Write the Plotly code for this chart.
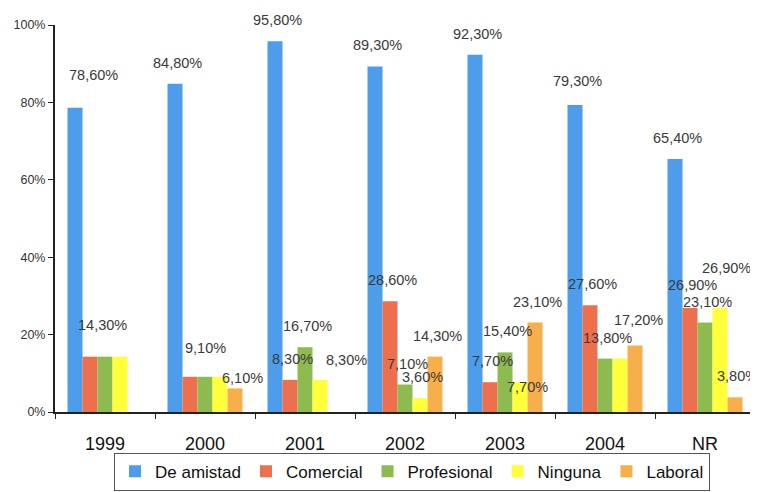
import plotly.graph_objects as go

categories = ["1999", "2000", "2001", "2002", "2003", "2004", "NR"]
series_names = ["De amistad", "Comercial", "Profesional", "Ninguna", "Laboral"]

de_amistad = [78.6, 84.8, 95.8, 89.3, 92.3, 79.3, 65.4]
comercial = [14.3, 9.1, 8.3, 28.6, 7.7, 27.6, 26.9]
profesional = [14.3, 9.1, 16.7, 7.1, 15.4, 13.8, 23.1]
ninguna = [14.3, 9.1, 8.3, 3.6, 7.7, 13.8, 26.9]
laboral = [None, 6.1, None, 14.3, 23.1, 17.2, 3.8]

# which values carry a visible data label in the original
labels_de_amistad = ["78,60%", "84,80%", "95,80%", "89,30%", "92,30%", "79,30%", "65,40%"]
labels_comercial = [None, None, "8,30%", "28,60%", "7,70%", "27,60%", "26,90%"]
labels_profesional = ["14,30%", "9,10%", "16,70%", "7,10%", "15,40%", "13,80%", "23,10%"]
labels_ninguna = [None, None, "8,30%", "3,60%", "7,70%", None, "26,90%"]
labels_laboral = [None, "6,10%", None, "14,30%", "23,10%", "17,20%", "3,80%"]

values = [de_amistad, comercial, profesional, ninguna, laboral]
labels = [labels_de_amistad, labels_comercial, labels_profesional, labels_ninguna, labels_laboral]
colors = ["#4D9DEB", "#EE6F4E", "#8DBB4F", "#FFFF3A", "#F6AF4A"]

fig = go.Figure()
for name, vals, col in zip(series_names, values, colors):
    fig.add_trace(go.Bar(name=name, x=categories, y=vals, marker=dict(color=col, line=dict(width=0))))

# label placement tweaks (pixels) relative to default position above each bar
BAR_PX = 15
default_dx, default_dy = 2, 21
tweaks = {
    (0, 0): (18, 33),
    (2, 0): (-3, 32),
    (2, 1): (0, 29),
    (4, 1): (7, 10),
    (3, 2): (26, 20),
    (3, 4): (7, -5),
    (0, 5): (2, 24),
    (4, 5): (3, 25),
    (3, 6): (6, 40),
    (1, 6): (2, 23),
}

annotations = []
for si, (vals, labs) in enumerate(zip(values, labels)):
    for ci, (v, t) in enumerate(zip(vals, labs)):
        if t is None or v is None:
            continue
        dx, dy = tweaks.get((si, ci), (default_dx, default_dy))
        annotations.append(dict(
            x=ci, y=v, xref="x", yref="y",
            text=t, showarrow=False,
            xshift=(si - 2) * BAR_PX + dx, yshift=dy,
            xanchor="center", yanchor="middle",
            font=dict(size=14.5, color="#3a3a3a", family="Arial, Liberation Sans, sans-serif"),
        ))

# the page body adds an 8px margin, so the figure is sized to compensate
fig.update_layout(
    width=750, height=484,
    margin=dict(l=47, r=3, t=17, b=80, autoexpand=False),
    paper_bgcolor="white", plot_bgcolor="white",
    barmode="group", bargap=0.25, bargroupgap=0,
    font=dict(family="Arial, Liberation Sans, sans-serif", color="#222"),
    annotations=annotations,
    legend=dict(
        orientation="h", x=0.51, xanchor="center", y=-0.105, yanchor="top",
        bordercolor="#555", borderwidth=1, bgcolor="white",
        font=dict(size=17, family="Liberation Sans Narrow, Arial Narrow, Arial, sans-serif", color="#111"),
        itemwidth=30, tracegroupgap=0,
    ),
    showlegend=True,
)
fig.update_xaxes(
    type="category", range=[-0.5, 6.5], showline=True, linecolor="#222", linewidth=1.5,
    ticks="outside", tickson="boundaries", ticklen=5, tickcolor="#222",
    tickfont=dict(size=18, color="#111"), ticklabelstandoff=15,
    showgrid=False, zeroline=False,
)
fig.update_yaxes(
    range=[0, 100], tickvals=[0, 20, 40, 60, 80, 100],
    ticktext=["0%", "20%", "40%", "60%", "80%", "100%"],
    showline=True, linecolor="#222", linewidth=2,
    ticks="outside", ticklen=5, tickcolor="#222",
    tickfont=dict(size=12.5, color="#333"),
    showgrid=False, zeroline=False,
)

fig.write_html("out.html")
